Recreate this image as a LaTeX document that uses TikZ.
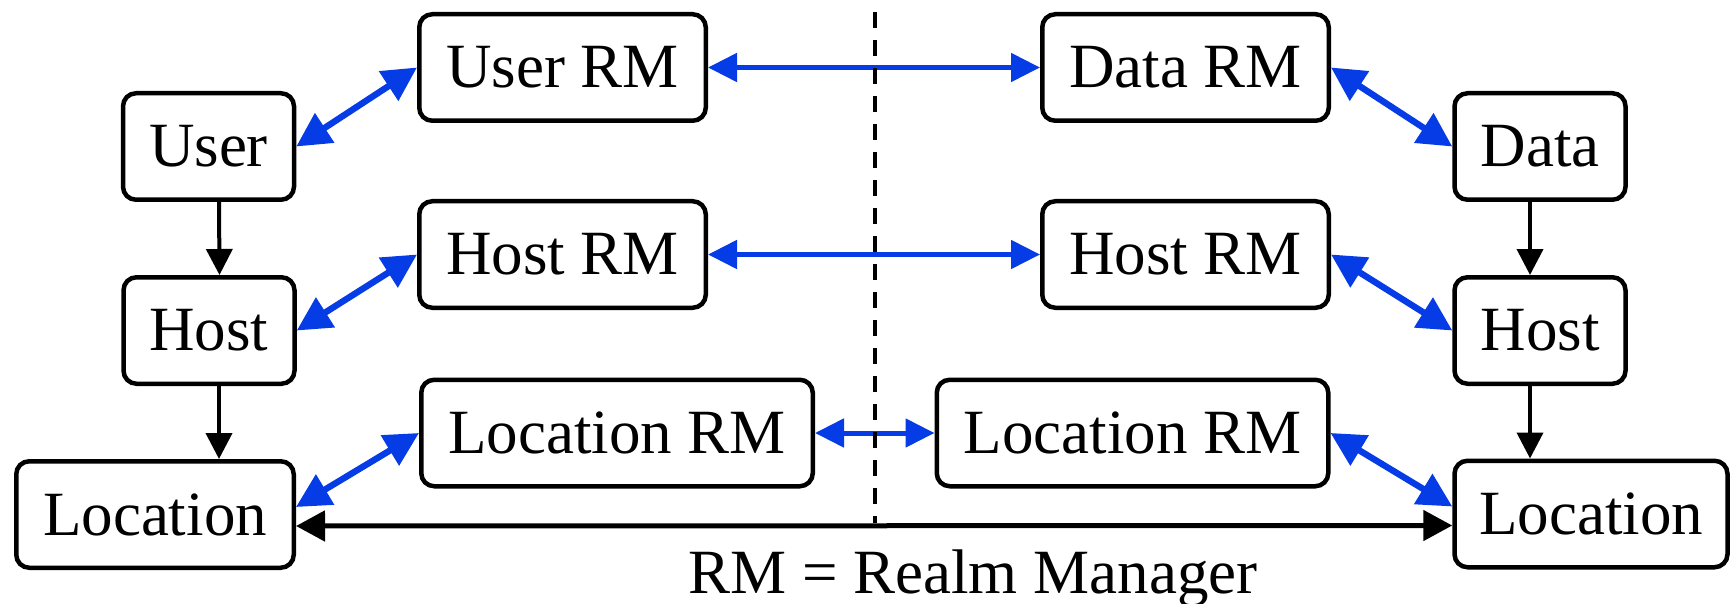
\documentclass[tikz,border=0pt]{standalone}
\usepackage{fontspec}
\setmainfont{Liberation Serif}
\usetikzlibrary{arrows.meta}
\definecolor{rmblue}{RGB}{5,60,230}
\begin{document}
\begin{tikzpicture}[x=0.5pt,y=-0.5pt,
  box/.style={draw,line width=2.25pt,rounded corners=6.5pt,inner sep=0pt,
    minimum height=53.25pt,font=\fontsize{31.5}{38}\selectfont},
  small/.style={box,minimum width=85.5pt},
  rmbox/.style={box,minimum width=143.25pt},
  lrmbox/.style={box,minimum width=195.75pt},
  diag/.style={rmblue,line width=3.2pt,
    {Triangle[length=17pt,width=17pt]}-{Triangle[length=17pt,width=17pt]}},
  horiz/.style={rmblue,line width=2.5pt,
    {Triangle[length=14.5pt,width=14pt]}-{Triangle[length=14.5pt,width=14pt]}},
  down/.style={line width=2pt,-{Triangle[length=13pt,width=13pt]}},
  spanarrow/.style={line width=2.5pt,
    {Triangle[length=14.5pt,width=15pt]}-{Triangle[length=14.5pt,width=15pt]}},
  divider/.style={line width=1.75pt,dash pattern=on 8pt off 6pt}]
\useasboundingbox (0,0) rectangle (1732,604);

% left column
\node[small] (userl) at (208.5,146.5) {User};
\node[small] (hostl) at (209,330.5) {Host};
\node[box,minimum width=138.75pt] (locl) at (155,514.5) {Location};
% right column
\node[small] (datar) at (1540,146.5) {Data};
\node[small] (hostr) at (1540,330.5) {Host};
\node[box,minimum width=136.5pt] (locr) at (1591,514) {Location};
% realm managers
\node[rmbox] (userrm) at (562.5,67.5) {User RM};
\node[rmbox] (hostrml) at (562.5,254.5) {Host RM};
\node[lrmbox] (locrml) at (617,433) {Location RM};
\node[rmbox] (datarm) at (1185.5,67.5) {Data RM};
\node[rmbox] (hostrmr) at (1185.5,254.5) {Host RM};
\node[lrmbox] (locrmr) at (1132.5,433) {Location RM};

\node[font=\fontsize{31.5}{38}\selectfont,anchor=base,inner sep=0pt] (legend) at (973,593) {RM = Realm Manager};

% vertical black arrows
\draw[down] ([xshift=5.25pt]userl.south) -- ([xshift=5.25pt]hostl.north);
\draw[down] ([xshift=5pt]hostl.south) -- ([xshift=5pt]hostl.south |- locl.north);
\draw[down] ([xshift=-5pt]datar.south) -- ([xshift=-5pt]hostr.north);
\draw[down] ([xshift=-5pt]hostr.south) -- ([xshift=-5pt]hostr.south |- locr.north);

% blue diagonal arrows
\draw[diag] (userl.east) -- (userrm.west);
\draw[diag] (hostl.east) -- (hostrml.west);
\draw[diag] ([yshift=3.75pt]locl.east) -- (locrml.west);
\draw[diag] (datarm.east) -- (datar.west);
\draw[diag] (hostrmr.east) -- (hostr.west);
\draw[diag] (locrmr.east) -- ([yshift=3.75pt]locr.west);

% blue horizontal arrows
\draw[horiz] (userrm.east) -- (datarm.west);
\draw[horiz] (hostrml.east) -- (hostrmr.west);
\draw[horiz] (locrml.east) -- (locrmr.west);

% bottom black arrow
\draw[spanarrow] ([yshift=-5.75pt]locl.east) -- ([yshift=-5.75pt]locr.west);

% dashed divider
\coordinate (dtop) at (875,12);
\coordinate (dbot) at (875,523);
\draw[divider] (dtop) -- (dbot);
\end{tikzpicture}
\end{document}
